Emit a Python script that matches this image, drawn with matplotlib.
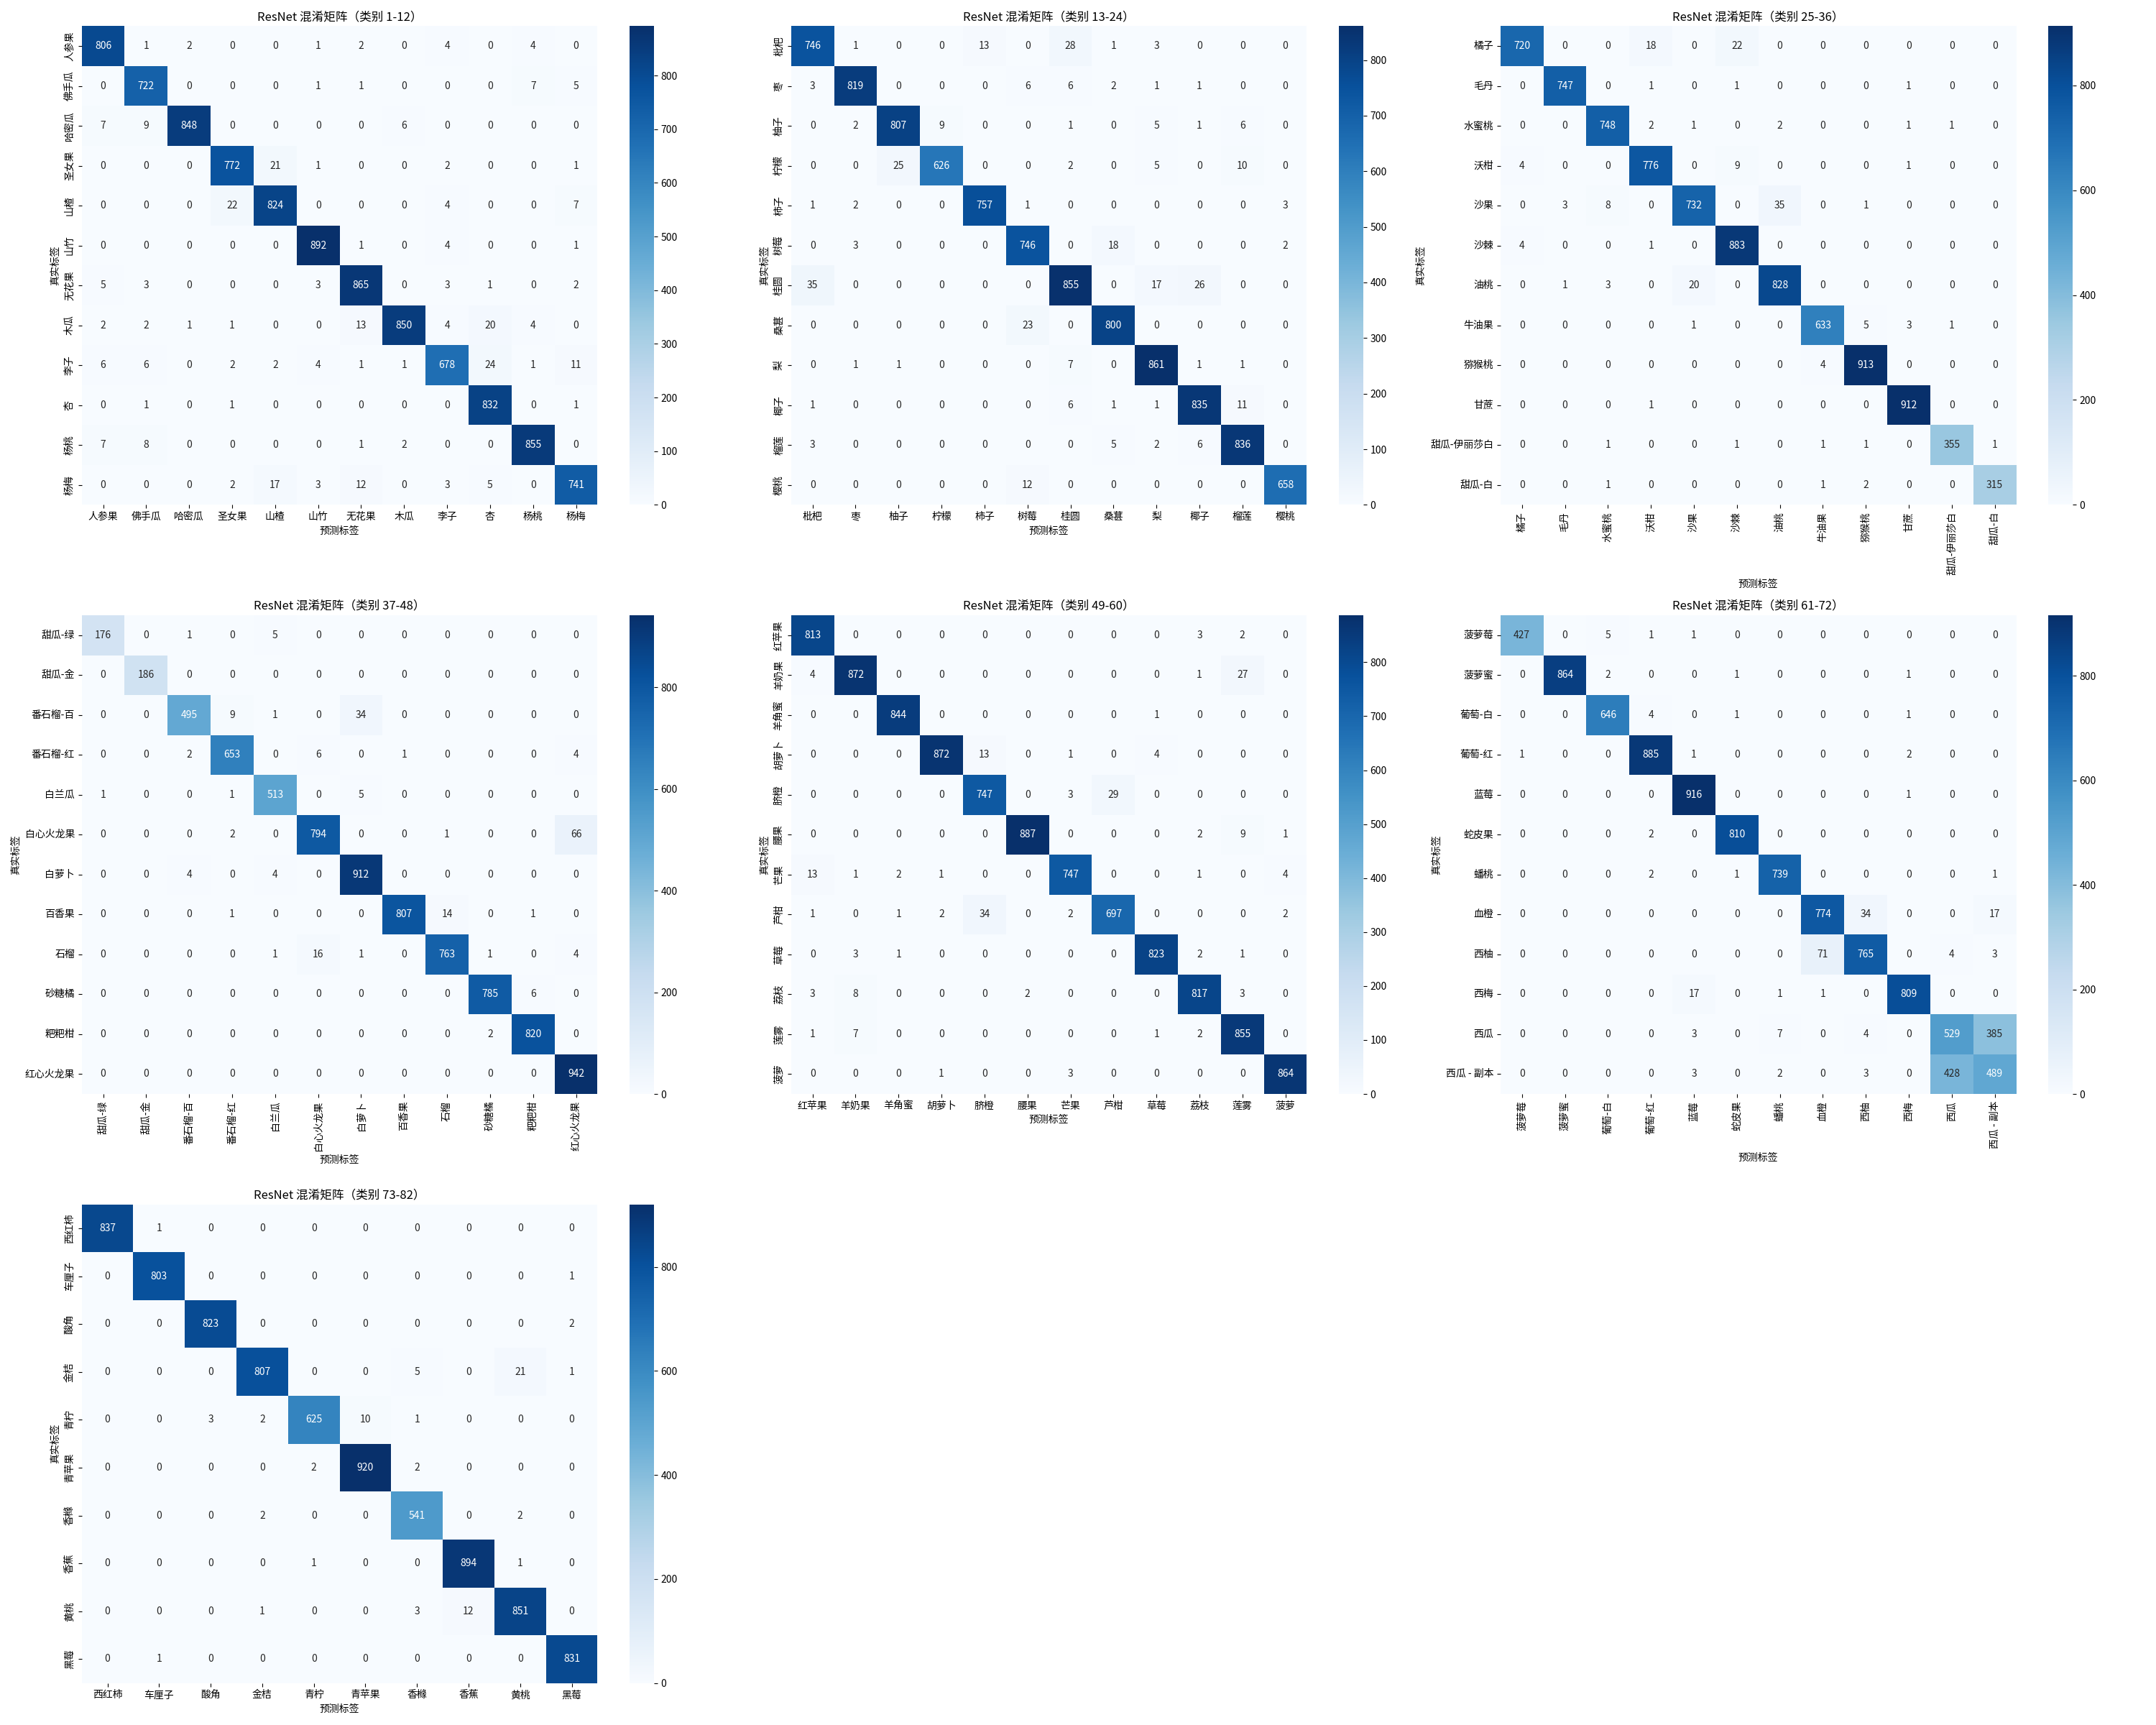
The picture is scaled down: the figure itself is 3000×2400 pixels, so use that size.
import matplotlib
matplotlib.use('Agg')
import matplotlib.pyplot as plt
import seaborn as sns
import numpy as np

plt.rcParams['font.family'] = ['Noto Sans CJK SC', 'DejaVu Sans']
plt.rcParams['axes.unicode_minus'] = False

#------------------------- class names per block ---------------------------------
names_1 = ['人参果', '佛手瓜', '哈密瓜', '圣女果', '山楂', '山竹', '无花果', '木瓜', '李子', '杏', '杨桃', '杨梅']
names_2 = ['枇杷', '枣', '柚子', '柠檬', '柿子', '树莓', '桂圆', '桑葚', '梨', '椰子', '榴莲', '樱桃']
names_3 = ['橘子', '毛丹', '水蜜桃', '沃柑', '沙果', '沙棘', '油桃', '牛油果', '猕猴桃', '甘蔗', '甜瓜-伊丽莎白', '甜瓜-白']
names_4 = ['甜瓜-绿', '甜瓜-金', '番石榴-百', '番石榴-红', '白兰瓜', '白心火龙果', '白萝卜', '百香果', '石榴', '砂糖橘', '粑粑柑', '红心火龙果']
names_5 = ['红苹果', '羊奶果', '羊角蜜', '胡萝卜', '脐橙', '腰果', '芒果', '芦柑', '草莓', '荔枝', '莲雾', '菠萝']
names_6 = ['菠萝莓', '菠萝蜜', '葡萄-白', '葡萄-红', '蓝莓', '蛇皮果', '蟠桃', '血橙', '西柚', '西梅', '西瓜', '西瓜 - 副本']
names_7 = ['西红柿', '车厘子', '酸角', '金桔', '青柠', '青苹果', '香橼', '香蕉', '黄桃', '黑莓']

#------------------------- confusion matrices ---------------------------------
cm_1 = [[806, 1, 2, 0, 0, 1, 2, 0, 4, 0, 4, 0],
        [0, 722, 0, 0, 0, 1, 1, 0, 0, 0, 7, 5],
        [7, 9, 848, 0, 0, 0, 0, 6, 0, 0, 0, 0],
        [0, 0, 0, 772, 21, 1, 0, 0, 2, 0, 0, 1],
        [0, 0, 0, 22, 824, 0, 0, 0, 4, 0, 0, 7],
        [0, 0, 0, 0, 0, 892, 1, 0, 4, 0, 0, 1],
        [5, 3, 0, 0, 0, 3, 865, 0, 3, 1, 0, 2],
        [2, 2, 1, 1, 0, 0, 13, 850, 4, 20, 4, 0],
        [6, 6, 0, 2, 2, 4, 1, 1, 678, 24, 1, 11],
        [0, 1, 0, 1, 0, 0, 0, 0, 0, 832, 0, 1],
        [7, 8, 0, 0, 0, 0, 1, 2, 0, 0, 855, 0],
        [0, 0, 0, 2, 17, 3, 12, 0, 3, 5, 0, 741]]

cm_2 = [[746, 1, 0, 0, 13, 0, 28, 1, 3, 0, 0, 0],
        [3, 819, 0, 0, 0, 6, 6, 2, 1, 1, 0, 0],
        [0, 2, 807, 9, 0, 0, 1, 0, 5, 1, 6, 0],
        [0, 0, 25, 626, 0, 0, 2, 0, 5, 0, 10, 0],
        [1, 2, 0, 0, 757, 1, 0, 0, 0, 0, 0, 3],
        [0, 3, 0, 0, 0, 746, 0, 18, 0, 0, 0, 2],
        [35, 0, 0, 0, 0, 0, 855, 0, 17, 26, 0, 0],
        [0, 0, 0, 0, 0, 23, 0, 800, 0, 0, 0, 0],
        [0, 1, 1, 0, 0, 0, 7, 0, 861, 1, 1, 0],
        [1, 0, 0, 0, 0, 0, 6, 1, 1, 835, 11, 0],
        [3, 0, 0, 0, 0, 0, 0, 5, 2, 6, 836, 0],
        [0, 0, 0, 0, 0, 12, 0, 0, 0, 0, 0, 658]]

cm_3 = [[720, 0, 0, 18, 0, 22, 0, 0, 0, 0, 0, 0],
        [0, 747, 0, 1, 0, 1, 0, 0, 0, 1, 0, 0],
        [0, 0, 748, 2, 1, 0, 2, 0, 0, 1, 1, 0],
        [4, 0, 0, 776, 0, 9, 0, 0, 0, 1, 0, 0],
        [0, 3, 8, 0, 732, 0, 35, 0, 1, 0, 0, 0],
        [4, 0, 0, 1, 0, 883, 0, 0, 0, 0, 0, 0],
        [0, 1, 3, 0, 20, 0, 828, 0, 0, 0, 0, 0],
        [0, 0, 0, 0, 1, 0, 0, 633, 5, 3, 1, 0],
        [0, 0, 0, 0, 0, 0, 0, 4, 913, 0, 0, 0],
        [0, 0, 0, 1, 0, 0, 0, 0, 0, 912, 0, 0],
        [0, 0, 1, 0, 0, 1, 0, 1, 1, 0, 355, 1],
        [0, 0, 1, 0, 0, 0, 0, 1, 2, 0, 0, 315]]

cm_4 = [[176, 0, 1, 0, 5, 0, 0, 0, 0, 0, 0, 0],
        [0, 186, 0, 0, 0, 0, 0, 0, 0, 0, 0, 0],
        [0, 0, 495, 9, 1, 0, 34, 0, 0, 0, 0, 0],
        [0, 0, 2, 653, 0, 6, 0, 1, 0, 0, 0, 4],
        [1, 0, 0, 1, 513, 0, 5, 0, 0, 0, 0, 0],
        [0, 0, 0, 2, 0, 794, 0, 0, 1, 0, 0, 66],
        [0, 0, 4, 0, 4, 0, 912, 0, 0, 0, 0, 0],
        [0, 0, 0, 1, 0, 0, 0, 807, 14, 0, 1, 0],
        [0, 0, 0, 0, 1, 16, 1, 0, 763, 1, 0, 4],
        [0, 0, 0, 0, 0, 0, 0, 0, 0, 785, 6, 0],
        [0, 0, 0, 0, 0, 0, 0, 0, 0, 2, 820, 0],
        [0, 0, 0, 0, 0, 0, 0, 0, 0, 0, 0, 942]]

cm_5 = [[813, 0, 0, 0, 0, 0, 0, 0, 0, 3, 2, 0],
        [4, 872, 0, 0, 0, 0, 0, 0, 0, 1, 27, 0],
        [0, 0, 844, 0, 0, 0, 0, 0, 1, 0, 0, 0],
        [0, 0, 0, 872, 13, 0, 1, 0, 4, 0, 0, 0],
        [0, 0, 0, 0, 747, 0, 3, 29, 0, 0, 0, 0],
        [0, 0, 0, 0, 0, 887, 0, 0, 0, 2, 9, 1],
        [13, 1, 2, 1, 0, 0, 747, 0, 0, 1, 0, 4],
        [1, 0, 1, 2, 34, 0, 2, 697, 0, 0, 0, 2],
        [0, 3, 1, 0, 0, 0, 0, 0, 823, 2, 1, 0],
        [3, 8, 0, 0, 0, 2, 0, 0, 0, 817, 3, 0],
        [1, 7, 0, 0, 0, 0, 0, 0, 1, 2, 855, 0],
        [0, 0, 0, 1, 0, 0, 3, 0, 0, 0, 0, 864]]

cm_6 = [[427, 0, 5, 1, 1, 0, 0, 0, 0, 0, 0, 0],
        [0, 864, 2, 0, 0, 1, 0, 0, 0, 1, 0, 0],
        [0, 0, 646, 4, 0, 1, 0, 0, 0, 1, 0, 0],
        [1, 0, 0, 885, 1, 0, 0, 0, 0, 2, 0, 0],
        [0, 0, 0, 0, 916, 0, 0, 0, 0, 1, 0, 0],
        [0, 0, 0, 2, 0, 810, 0, 0, 0, 0, 0, 0],
        [0, 0, 0, 2, 0, 1, 739, 0, 0, 0, 0, 1],
        [0, 0, 0, 0, 0, 0, 0, 774, 34, 0, 0, 17],
        [0, 0, 0, 0, 0, 0, 0, 71, 765, 0, 4, 3],
        [0, 0, 0, 0, 17, 0, 1, 1, 0, 809, 0, 0],
        [0, 0, 0, 0, 3, 0, 7, 0, 4, 0, 529, 385],
        [0, 0, 0, 0, 3, 0, 2, 0, 3, 0, 428, 489]]

cm_7 = [[837, 1, 0, 0, 0, 0, 0, 0, 0, 0],
        [0, 803, 0, 0, 0, 0, 0, 0, 0, 1],
        [0, 0, 823, 0, 0, 0, 0, 0, 0, 2],
        [0, 0, 0, 807, 0, 0, 5, 0, 21, 1],
        [0, 0, 3, 2, 625, 10, 1, 0, 0, 0],
        [0, 0, 0, 0, 2, 920, 2, 0, 0, 0],
        [0, 0, 0, 2, 0, 0, 541, 0, 2, 0],
        [0, 0, 0, 0, 1, 0, 0, 894, 1, 0],
        [0, 0, 0, 1, 0, 0, 3, 12, 851, 0],
        [0, 1, 0, 0, 0, 0, 0, 0, 0, 831]]

ranges = ['1-12', '13-24', '25-36', '37-48', '49-60', '61-72', '73-82']
blocks = [(names_1, cm_1), (names_2, cm_2), (names_3, cm_3), (names_4, cm_4),
          (names_5, cm_5), (names_6, cm_6), (names_7, cm_7)]

#------------------------- plotting ---------------------------------
fig, axes = plt.subplots(3, 3, figsize=(30, 24))
axes = axes.flatten()

for i, (names, cm) in enumerate(blocks):
    ax = axes[i]
    sns.heatmap(np.array(cm), annot=True, fmt='d', cmap='Blues',
                xticklabels=names, yticklabels=names, ax=ax)
    ax.set_title('ResNet 混淆矩阵（类别 %s）' % ranges[i])
    ax.set_xlabel('预测标签')
    ax.set_ylabel('真实标签')

for ax in axes[len(blocks):]:
    ax.axis('off')

plt.tight_layout()
plt.savefig('out.png', dpi=100)
